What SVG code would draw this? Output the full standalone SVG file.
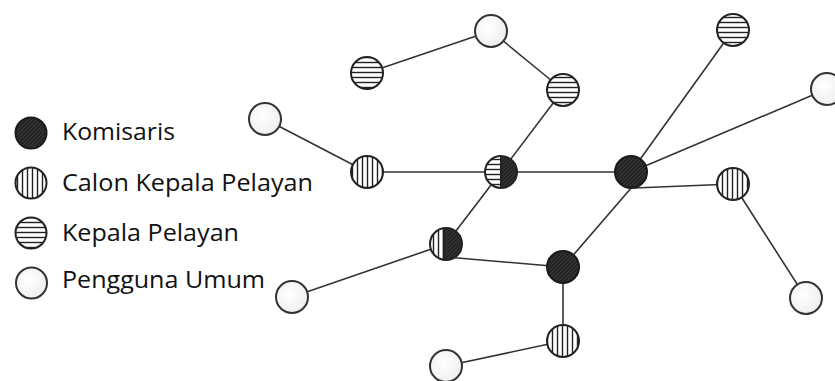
<svg xmlns="http://www.w3.org/2000/svg" width="835" height="381" viewBox="0 0 835 381">
<defs>
<pattern id="hs" patternUnits="userSpaceOnUse" width="10" height="5"><rect width="10" height="5" fill="#fff"/><line x1="0" y1="2.5" x2="10" y2="2.5" stroke="#222" stroke-width="1.4"/></pattern>
<pattern id="vs" patternUnits="userSpaceOnUse" width="5" height="10"><rect width="5" height="10" fill="#fff"/><line x1="2.5" y1="0" x2="2.5" y2="10" stroke="#222" stroke-width="1.4"/></pattern>
<pattern id="bk" patternUnits="userSpaceOnUse" width="4" height="4"><rect width="4" height="4" fill="#262626"/><line x1="0" y1="4" x2="4" y2="0" stroke="#3c3c3c" stroke-width="0.8"/></pattern>
<radialGradient id="wh" cx="0.4" cy="0.4" r="0.7"><stop offset="0" stop-color="#ffffff"/><stop offset="1" stop-color="#ededed"/></radialGradient>
<clipPath id="cl1"><rect x="-17" y="-17" width="17" height="34"/></clipPath>
<clipPath id="cr1"><rect x="0" y="-17" width="17" height="34"/></clipPath>
<clipPath id="cl2"><rect x="-17" y="-17" width="15" height="34"/></clipPath>
<clipPath id="cr2"><rect x="-2" y="-17" width="19" height="34"/></clipPath>
</defs>
<style>
.e{stroke:#333;stroke-width:1.6;fill:none}
.o{stroke:#222;stroke-width:2;fill:none}
.w{fill:url(#wh);stroke:#333;stroke-width:2}
.h{fill:url(#hs);stroke:#222;stroke-width:2}
.v{fill:url(#vs);stroke:#222;stroke-width:2}
.b{fill:url(#bk);stroke:#1a1a1a;stroke-width:2}
.t{font-family:"Open Sans","Liberation Sans",sans-serif;font-size:24.5px;fill:#111}
</style>
<rect width="835" height="381" fill="#fff"/>
<g id="connectors">
<line class="e" x1="491" y1="31" x2="367" y2="73"/>
<line class="e" x1="491" y1="31" x2="563" y2="90"/>
<line class="e" x1="563" y1="90" x2="501" y2="172"/>
<line class="e" x1="265" y1="119" x2="367" y2="172"/>
<line class="e" x1="367" y1="172" x2="501" y2="172"/>
<line class="e" x1="501" y1="172" x2="631" y2="172"/>
<line class="e" x1="501" y1="172" x2="446" y2="244"/>
<line class="e" x1="446" y1="244" x2="292" y2="297"/>
<line class="e" x1="446" y1="257" x2="563" y2="267"/>
<line class="e" x1="632" y1="187" x2="563" y2="267"/>
<line class="e" x1="563" y1="267" x2="563" y2="341"/>
<line class="e" x1="563" y1="341" x2="446" y2="366"/>
<line class="e" x1="631" y1="172" x2="733" y2="30"/>
<line class="e" x1="631" y1="172" x2="827" y2="89"/>
<line class="e" x1="634" y1="188" x2="733" y2="184"/>
<line class="e" x1="733" y1="184" x2="806" y2="298"/>
</g>
<g id="n-top"><circle class="w" cx="491" cy="31" r="16"/></g>
<g id="n-kp1"><circle class="h" cx="367" cy="73" r="16"/></g>
<g id="n-kp2"><circle class="h" cx="563" cy="90" r="16"/></g>
<g id="n-u1"><circle class="w" cx="265" cy="119" r="16"/></g>
<g id="n-ckp1"><circle class="v" cx="367" cy="172" r="16"/></g>
<g id="n-mix1" transform="translate(501,172)">
<circle r="16" fill="url(#hs)" clip-path="url(#cl1)"/>
<circle r="16" fill="url(#bk)" clip-path="url(#cr1)"/>
<line x1="0" y1="-16" x2="0" y2="16" stroke="#222" stroke-width="2"/>
<circle class="o" r="16"/>
</g>
<g id="n-kom1"><circle class="b" cx="631" cy="172" r="16"/></g>
<g id="n-kp3"><circle class="h" cx="733" cy="30" r="16"/></g>
<g id="n-u2"><circle class="w" cx="827" cy="89" r="16"/></g>
<g id="n-ckp2"><circle class="v" cx="733" cy="184" r="16"/></g>
<g id="n-u3"><circle class="w" cx="806" cy="298" r="16"/></g>
<g id="n-mix2" transform="translate(446,244)">
<circle r="16" fill="url(#vs)" clip-path="url(#cl2)"/>
<circle r="16" fill="url(#bk)" clip-path="url(#cr2)"/>
<line x1="-2" y1="-16" x2="-2" y2="16" stroke="#222" stroke-width="2.5"/>
<circle class="o" r="16"/>
</g>
<g id="n-u4"><circle class="w" cx="292" cy="297" r="16"/></g>
<g id="n-kom2"><circle class="b" cx="563" cy="267" r="16"/></g>
<g id="n-ckp3"><circle class="v" cx="563" cy="341" r="16"/></g>
<g id="n-u5"><circle class="w" cx="446" cy="366" r="16"/></g>
<g id="legend">
<circle class="b" cx="31" cy="133" r="15.5"/>
<text class="t" x="62" y="140" textLength="113" lengthAdjust="spacingAndGlyphs">Komisaris</text>
<circle class="v" cx="31" cy="183" r="15.5"/>
<text class="t" x="62" y="191" textLength="251" lengthAdjust="spacingAndGlyphs">Calon Kepala Pelayan</text>
<circle class="h" cx="31" cy="233" r="15.5"/>
<text class="t" x="62" y="241" textLength="177" lengthAdjust="spacingAndGlyphs">Kepala Pelayan</text>
<circle class="w" cx="31.5" cy="283" r="15.5"/>
<text class="t" x="62" y="288" textLength="203" lengthAdjust="spacingAndGlyphs">Pengguna Umum</text>
</g>
</svg>
